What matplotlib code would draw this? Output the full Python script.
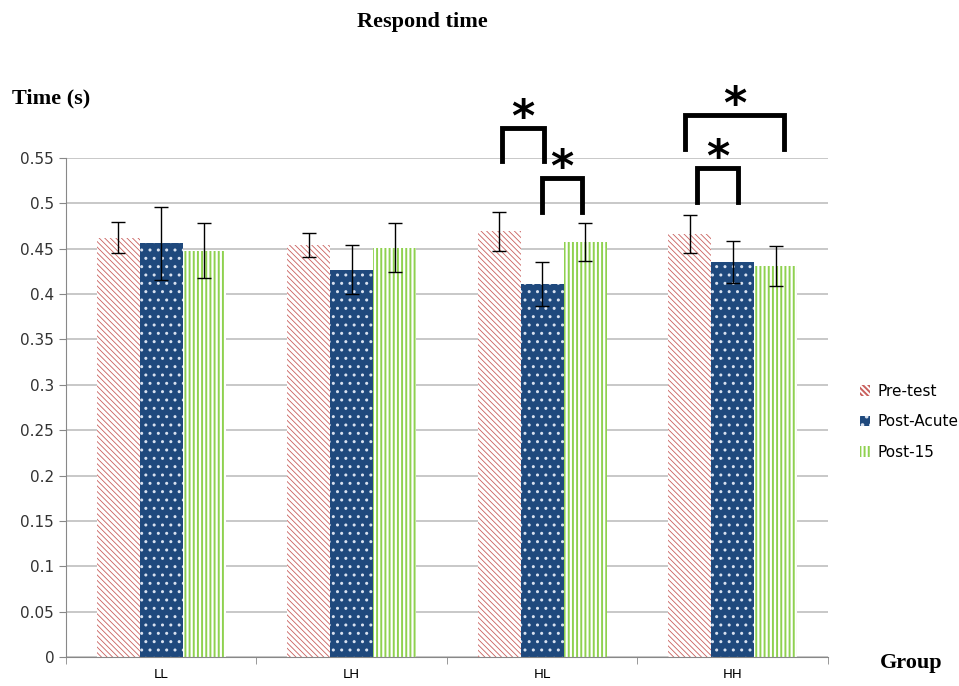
import matplotlib
matplotlib.use('Agg')
import matplotlib.pyplot as plt
import numpy as np
from matplotlib.patches import Patch

# Dane
groups = ['LL', 'LH', 'HL', 'HH']
series = ['Pre-test', 'Post-Acute', 'Post-15']
pre_test = [0.462, 0.454, 0.469, 0.466]
post_acute = [0.456, 0.427, 0.411, 0.435]
post_15 = [0.448, 0.451, 0.457, 0.431]
err_pre = [0.017, 0.013, 0.022, 0.021]
err_acute = [0.040, 0.027, 0.024, 0.023]
err_15 = [0.030, 0.027, 0.021, 0.022]

# (x1, x2, y_bottom, y_top) dla nawiasow istotnosci
brackets = [(1.79, 2.01, 0.547, 0.583),
            (2.00, 2.21, 0.490, 0.528),
            (2.75, 3.27, 0.560, 0.597),
            (2.81, 3.03, 0.501, 0.539)]

fig = plt.figure(figsize=(9.59, 6.86), dpi=100)
ax = fig.add_axes([0.0688, 0.0423, 0.7946, 0.7274])

x = np.arange(len(groups))
w = 0.225

styles = [
    dict(facecolor='white', edgecolor='#c9605d', hatch='\\\\\\\\\\\\'),
    dict(facecolor='#1f497d', edgecolor='#d9e2f0', hatch='..'),
    dict(facecolor='white', edgecolor='#8fd14f', hatch='||||'),
]
hatch_lw = [0.6, 1.0, 1.4]
values = [pre_test, post_acute, post_15]
errors = [err_pre, err_acute, err_15]

for i in range(3):
    plt.rcParams['hatch.linewidth'] = hatch_lw[i]
    ax.bar(x + (i - 1) * w, values[i], w, linewidth=0, zorder=2, **styles[i])
    ax.errorbar(x + (i - 1) * w, values[i], yerr=errors[i], fmt='none',
                ecolor='black', elinewidth=1, capsize=5, capthick=1, zorder=3)

for x1, x2, yb, yt in brackets:
    ax.plot([x1, x1, x2, x2], [yb, yt, yt, yb], color='black', lw=3.5,
            clip_on=False, solid_joinstyle='miter', zorder=4)
    ax.text((x1 + x2) / 2, yt - 0.013, '*', ha='center', va='bottom',
            fontsize=32, fontweight='bold', clip_on=False)

ax.set_xlim(-0.5, 3.5)
ax.set_ylim(0, 0.55)
ax.set_yticks(np.arange(0, 0.551, 0.05))
ax.set_yticklabels(['0', '0.05', '0.1', '0.15', '0.2', '0.25', '0.3', '0.35',
                    '0.4', '0.45', '0.5', '0.55'], fontsize=11, color='#333333')
ax.set_xticks(x)
ax.set_xticklabels(groups, fontsize=9.5)
ax.tick_params(axis='x', which='major', length=0, pad=8)
ax.set_xticks([-0.5, 0.5, 1.5, 2.5, 3.5], minor=True)
ax.tick_params(axis='x', which='minor', length=5, color='#888888')
ax.tick_params(axis='y', length=5, color='#888888')
ax.grid(axis='y', color='#bfbfbf', lw=1.2, zorder=0)
ax.set_axisbelow(True)
for s in ['top', 'right']:
    ax.spines[s].set_visible(False)
for s in ['left', 'bottom']:
    ax.spines[s].set_color('#888888')

serif = 'Liberation Serif'
fig.text(422 / 959, 1 - 22 / 686, 'Respond time', ha='center', va='center',
         fontsize=16, fontweight='bold', family=serif)
fig.text(12 / 959, 1 - 98 / 686, 'Time (s)', ha='left', va='center',
         fontsize=16, fontweight='bold', family=serif)
fig.text(880 / 959, 1 - 663 / 686, 'Group', ha='left', va='center',
         fontsize=16, fontweight='bold', family=serif)

handles = []
for i in range(3):
    plt.rcParams['hatch.linewidth'] = hatch_lw[i]
    handles.append(Patch(linewidth=0, label=series[i], **styles[i]))
fig.legend(handles=handles, loc='center left', bbox_to_anchor=(0.882, 0.385),
           frameon=False, fontsize=11, handlelength=0.7, handleheight=0.7,
           handletextpad=0.5, labelspacing=1.0)

plt.savefig('out.png', dpi=100)
